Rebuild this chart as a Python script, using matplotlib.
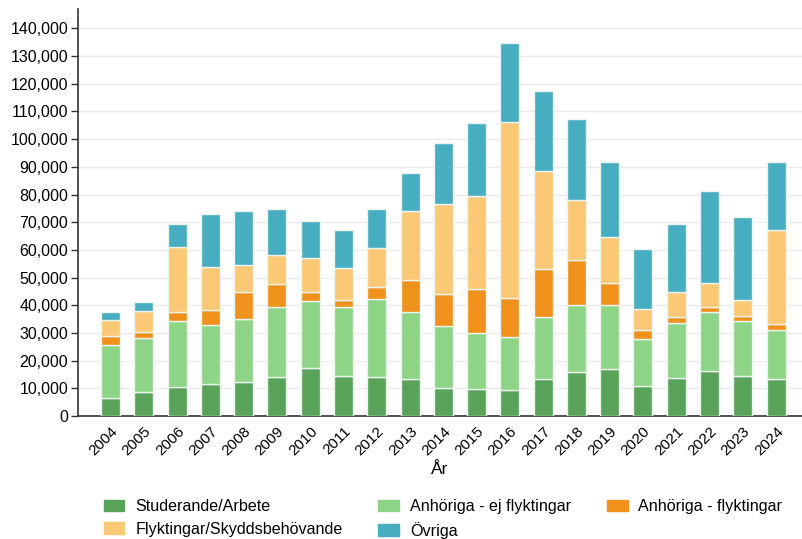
import matplotlib
matplotlib.use("Agg")
import matplotlib.pyplot as plt
import numpy as np
from matplotlib.ticker import FuncFormatter, MultipleLocator
from matplotlib.patches import Patch

plt.rcParams['font.family'] = ['Liberation Sans', 'DejaVu Sans']

years = [str(y) for y in range(2004, 2025)]
studerande = [6.6, 8.6, 10.5, 11.5, 12.2, 14.2, 17.3, 14.3, 14.1, 13.4, 10.1, 9.8, 9.4, 13.3, 16.0, 16.9, 11.0, 13.6, 16.4, 14.6, 13.5]
anh_ej = [18.9, 19.7, 23.8, 21.4, 22.7, 25.1, 24.2, 25.0, 28.2, 24.2, 22.4, 20.1, 19.2, 22.6, 24.0, 23.3, 16.9, 20.0, 21.3, 19.6, 17.6]
anh_fl = [3.5, 2.0, 3.2, 5.5, 10.0, 8.5, 3.3, 2.6, 4.3, 11.6, 11.7, 16.1, 14.1, 17.3, 16.4, 7.7, 3.2, 2.1, 1.8, 1.9, 2.2]
flykt = [5.7, 7.5, 23.6, 15.5, 9.7, 10.4, 12.2, 11.7, 14.0, 24.8, 32.3, 33.6, 63.5, 35.4, 21.7, 16.8, 7.7, 9.0, 8.7, 5.9, 33.8]
ovriga = [3.0, 3.5, 8.4, 19.0, 19.4, 16.6, 13.4, 13.7, 14.2, 13.9, 22.1, 26.4, 28.7, 28.7, 29.3, 27.0, 21.5, 24.6, 33.1, 29.9, 24.8]

series = [
    ("Studerande/Arbete", studerande, "#59A25A"),
    ("Anhöriga - ej flyktingar", anh_ej, "#8ED486"),
    ("Anhöriga - flyktingar", anh_fl, "#F0911C"),
    ("Flyktingar/Skyddsbehövande", flykt, "#FBC875"),
    ("Övriga", ovriga, "#47ADC1"),
]

fig = plt.figure(figsize=(8.02, 5.39), dpi=100)
ax = fig.add_axes([78/802, 1-416/539, 1-78/802, (416-9)/539])

x = np.arange(len(years))
bottom = np.zeros(len(years))
handles = []
for label, vals, col in series:
    v = np.array(vals) * 1000
    ax.bar(x, v, width=0.57, bottom=bottom, color=col, edgecolor="#EAF4EC", linewidth=1.0, zorder=3)
    bottom += v
    handles.append(Patch(facecolor=col, edgecolor=col, label=label))

ax.set_xlim(-0.98, 20.78)
ax.set_ylim(0, 147000)
ax.yaxis.set_major_locator(MultipleLocator(10000))
ax.yaxis.set_major_formatter(FuncFormatter(lambda v, p: f"{int(v):,}"))
ax.set_xticks(x)
ax.set_xticklabels(years, rotation=45, ha='right', rotation_mode='anchor')
ax.tick_params(axis='x', length=0, pad=6, labelsize=11)
ax.tick_params(axis='y', length=5, width=1, color="#333333", labelsize=11.5, pad=2)
ax.grid(axis='y', color="#EBEBEB", linewidth=1, zorder=0)
ax.set_axisbelow(True)
for s in ['top', 'right']:
    ax.spines[s].set_visible(False)
ax.spines['left'].set_color("#333333")
ax.spines['bottom'].set_color("#333333")
ax.spines['left'].set_linewidth(1.2)
ax.spines['bottom'].set_linewidth(1.2)
ax.set_xlabel("År", fontsize=12.5, labelpad=3)

order = [0, 3, 1, 4, 2]
fig.legend([handles[i] for i in order], [handles[i].get_label() for i in order],
           ncol=3, loc='center', bbox_to_anchor=(443/802, 1-519/539), frameon=False,
           fontsize=11.6, handlelength=1.3, handleheight=0.7, columnspacing=2.2,
           handletextpad=0.68, labelspacing=0.45)

fig.savefig("out.png", dpi=100)
